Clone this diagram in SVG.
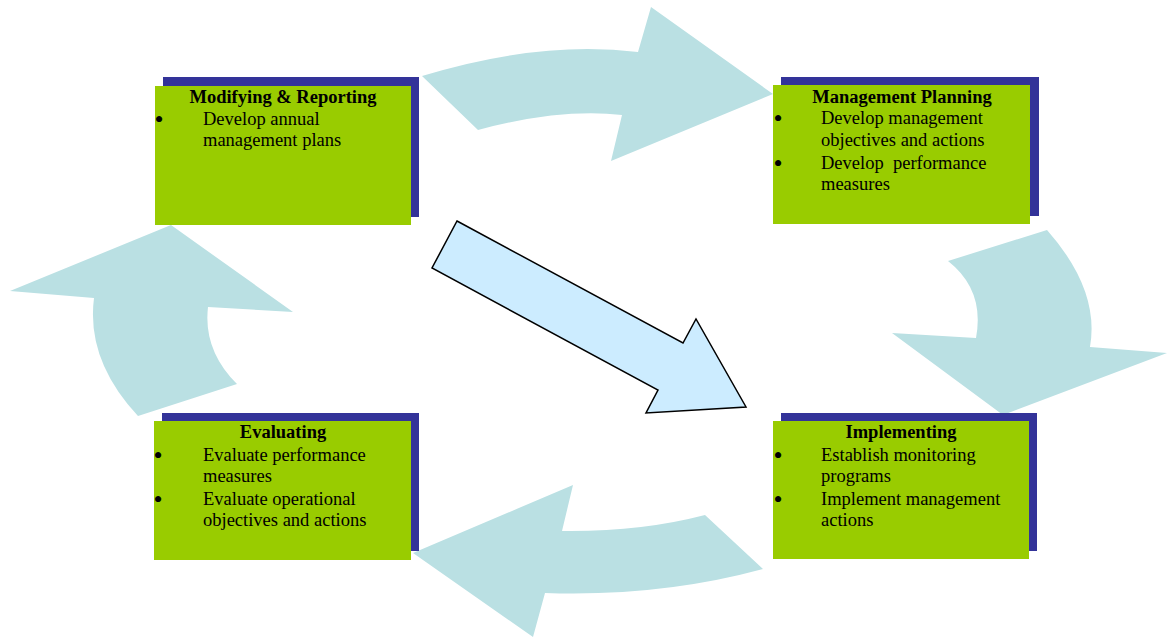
<svg xmlns="http://www.w3.org/2000/svg" width="1167" height="637" viewBox="0 0 1167 637">
<style>
.flow{fill:#BAE0E3;stroke:none}
.main{fill:#CCECFF;stroke:#000;stroke-width:1.5;stroke-linejoin:miter}
.shadow{fill:#333399}
.box{fill:#99CC00}
text{font-family:"Liberation Serif","Times New Roman",serif;font-size:18.5px;fill:#000}
.title{font-weight:bold;text-anchor:middle}
.pre{white-space:pre}
.b{font-size:26px;text-anchor:middle}
</style>
<rect width="1167" height="637" fill="#fff"/>
<g id="connectors">
<path class="flow" d="M422,76 Q540,40 638,52 L651,7 L773,94 L611,161 L622,115 Q560,108 478,130 Z"/>
<path class="flow" d="M948,261 L1047,230 Q1100,290 1090,347 L1167,353 L1003,415 L892,333 L976,338 Q985,290 948,261 Z"/>
<path class="flow" d="M705,515 Q640,532 562,531 L573,485 L413,553 L533,637 L545,593 Q660,597 763,569 Z"/>
<path class="flow" d="M171,225 L293,312 L208,307 Q203,350 237,384 L138,416 Q86,360 94,298 L10,291 Z"/>
<path class="main" d="M457,221 L683,343 L696,319 L746,407 L646,413 L658,390 L432,268 Z"/>
</g>
<g id="modifying">
<rect class="shadow" x="163" y="77" width="256" height="140"/>
<rect class="box" x="155" y="86" width="256" height="139"/>
<text class="title" x="283" y="103">Modifying &amp; Reporting</text>
<text class="b" x="159" y="128">•</text>
<text x="203" y="125">Develop annual</text>
<text x="203" y="146">management plans</text>
</g>
<g id="planning">
<rect class="shadow" x="781" y="77" width="258" height="139"/>
<rect class="box" x="773" y="85" width="257" height="139"/>
<text class="title" x="902" y="103">Management Planning</text>
<text class="b" x="778" y="127">•</text>
<text x="821" y="124">Develop management</text>
<text x="821" y="146">objectives and actions</text>
<text class="b" x="778" y="172">•</text>
<text class="pre" x="821" y="169">Develop  performance</text>
<text x="821" y="190">measures</text>
</g>
<g id="evaluating">
<rect class="shadow" x="162" y="413" width="257" height="138"/>
<rect class="box" x="154" y="421" width="257" height="139"/>
<text class="title" x="283" y="438">Evaluating</text>
<text class="b" x="158" y="464">•</text>
<text x="203" y="461">Evaluate performance</text>
<text x="203" y="482">measures</text>
<text class="b" x="158" y="508">•</text>
<text x="203" y="505">Evaluate operational</text>
<text x="203" y="526">objectives and actions</text>
</g>
<g id="implementing">
<rect class="shadow" x="781" y="413" width="256" height="138"/>
<rect class="box" x="773" y="421" width="256" height="138"/>
<text class="title" x="901" y="438">Implementing</text>
<text class="b" x="778" y="464">•</text>
<text x="821" y="461">Establish monitoring</text>
<text x="821" y="482">programs</text>
<text class="b" x="778" y="508">•</text>
<text x="821" y="505">Implement management</text>
<text x="821" y="526">actions</text>
</g>
</svg>
